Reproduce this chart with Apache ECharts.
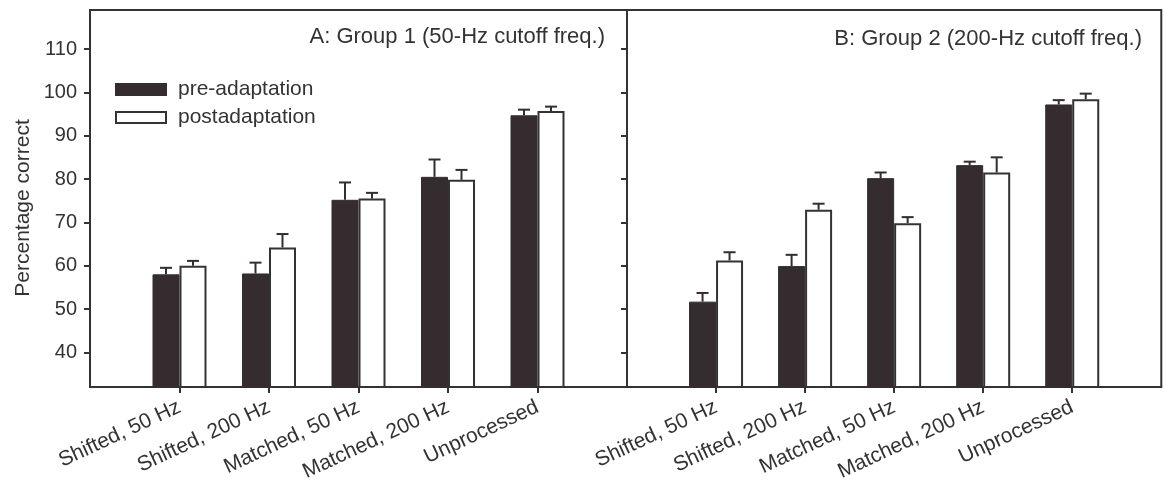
<!DOCTYPE html>
<html>
<head>
<meta charset="utf-8">
<script src="https://cdn.jsdelivr.net/npm/echarts@6/dist/echarts.min.js"></script>
<style>
  html, body { margin: 0; padding: 0; background: #fff; }
  #chart { width: 1164px; height: 494px; }
</style>
</head>
<body>
<div id="chart"></div>
<script>
// categories (blank ends keep the 0..6 spacing of the original axis)
var categories = ['', 'Shifted, 50 Hz', 'Shifted, 200 Hz', 'Matched, 50 Hz', 'Matched, 200 Hz', 'Unprocessed', ''];
var yTicks = [40, 50, 60, 70, 80, 90, 100, 110];

// group 1 (50-Hz cutoff)
var g1Pre = [58.0, 58.2, 75.2, 80.5, 94.7];
var g1PreErr = [59.5, 60.7, 79.2, 84.5, 96.0];
var g1Post = [60.0, 64.2, 75.5, 79.8, 95.7];
var g1PostErr = [61.1, 67.3, 76.8, 82.1, 96.7];

// group 2 (200-Hz cutoff)
var g2Pre = [51.7, 59.9, 80.2, 83.2, 97.2];
var g2PreErr = [53.7, 62.5, 81.5, 84.0, 98.2];
var g2Post = [61.2, 72.9, 69.8, 81.5, 98.4];
var g2PostErr = [63.1, 74.3, 71.2, 85.0, 99.7];

var FONT = '"Liberation Sans", Arial, sans-serif';
var INK = '#333';
var DARK = '#342c2e';
var BAR_W = 27;

(function() {
    const chartDom = document.getElementById('chart');
    const myChart = echarts.init(chartDom);

    // pad with '-' so the bars sit on categories 1..5
    function pad(arr) {
        return ['-'].concat(arr).concat(['-']);
    }

    // error bar rows: [category index, bar top, error top]
    function errRows(vals, errs) {
        return vals.map((v, i) => [i + 1, v, errs[i]]);
    }

    function errSeries(idx, vals, errs, dx) {
        return {
            type: 'custom',
            xAxisIndex: idx,
            yAxisIndex: idx,
            silent: true,
            z: 5,
            data: errRows(vals, errs),
            renderItem: function(params, api) {
                const base = api.coord([api.value(0), api.value(1)]);
                const top = api.coord([api.value(0), api.value(2)]);
                const x = base[0] + dx;
                return {
                    type: 'group',
                    children: [
                        { type: 'line', shape: { x1: x, y1: base[1], x2: x, y2: top[1] },
                          style: { stroke: DARK, lineWidth: 2 } },
                        { type: 'line', shape: { x1: x - 6, y1: top[1], x2: x + 6, y2: top[1] },
                          style: { stroke: DARK, lineWidth: 2 } }
                    ]
                };
            }
        };
    }

    function barSeries(idx, name, vals, filled) {
        return {
            name: name,
            type: 'bar',
            xAxisIndex: idx,
            yAxisIndex: idx,
            barWidth: BAR_W,
            barGap: '0%',
            data: pad(vals),
            itemStyle: filled
                ? { color: DARK, borderColor: DARK, borderWidth: 1 }
                : { color: '#fff', borderColor: INK, borderWidth: 2 }
        };
    }

    function xAxis(idx) {
        return {
            type: 'category',
            gridIndex: idx,
            data: categories,
            boundaryGap: false,
            axisLine: { lineStyle: { color: INK, width: 2 } },
            axisTick: {
                length: 6,
                lineStyle: { color: INK, width: 2 },
                interval: (i) => i >= 1 && i <= 5
            },
            axisLabel: {
                rotate: 25,
                margin: 19,
                interval: 0,
                fontFamily: FONT,
                fontSize: 21,
                color: INK
            },
            splitLine: { show: false }
        };
    }

    const option = {
        backgroundColor: '#fff',
        animation: false,
        title: [
            {
                text: 'A: Group 1 (50-Hz cutoff freq.)',
                right: 559,
                top: 26,
                padding: 0,
                textStyle: { fontFamily: FONT, fontSize: 22, fontWeight: 'normal', color: INK }
            },
            {
                text: 'B: Group 2 (200-Hz cutoff freq.)',
                right: 22,
                top: 28,
                padding: 0,
                textStyle: { fontFamily: FONT, fontSize: 22, fontWeight: 'normal', color: INK }
            }
        ],
        legend: {
            data: ['pre-adaptation', 'postadaptation'],
            orient: 'vertical',
            left: 115,
            top: 79,
            padding: 0,
            itemWidth: 50,
            itemHeight: 11,
            itemGap: 7,
            icon: 'rect',
            textStyle: { fontFamily: FONT, fontSize: 21, color: INK, padding: [0, 0, 0, 7] }
        },
        grid: [
            { left: 90, top: 10, width: 537, height: 377, show: true, borderColor: INK, borderWidth: 2 },
            { left: 627, top: 10, width: 535, height: 377, show: true, borderColor: INK, borderWidth: 2 }
        ],
        xAxis: [xAxis(0), xAxis(1)],
        yAxis: [
            {
                type: 'value',
                gridIndex: 0,
                min: 32,
                max: 119,
                axisLine: { show: true, lineStyle: { color: INK, width: 2 } },
                axisTick: { show: true, length: 6, customValues: yTicks, lineStyle: { color: INK, width: 2 } },
                axisLabel: { customValues: yTicks, margin: 13, fontFamily: FONT, fontSize: 20, color: INK },
                splitLine: { show: false }
            },
            {
                type: 'value',
                gridIndex: 1,
                min: 32,
                max: 119,
                axisLine: { show: true, lineStyle: { color: INK, width: 2 } },
                axisTick: { show: false },
                axisLabel: { show: false },
                splitLine: { show: false }
            },
            {
                // inward ticks along the right edge of panel A
                type: 'value',
                gridIndex: 0,
                position: 'right',
                min: 32,
                max: 119,
                axisLine: { show: false },
                axisTick: { show: true, inside: true, length: 6, customValues: yTicks, lineStyle: { color: INK, width: 2 } },
                axisLabel: { show: false },
                splitLine: { show: false }
            }
        ],
        graphic: [
            {
                type: 'text',
                x: 23,
                y: 208,
                rotation: Math.PI / 2,
                style: {
                    text: 'Percentage correct',
                    fontFamily: FONT,
                    fontSize: 21,
                    fill: INK,
                    align: 'center',
                    verticalAlign: 'middle'
                }
            }
        ],
        series: [
            barSeries(0, 'pre-adaptation', g1Pre, true),
            barSeries(0, 'postadaptation', g1Post, false),
            barSeries(1, 'pre-adaptation', g2Pre, true),
            barSeries(1, 'postadaptation', g2Post, false),
            errSeries(0, g1Pre, g1PreErr, -BAR_W / 2),
            errSeries(0, g1Post, g1PostErr, BAR_W / 2),
            errSeries(1, g2Pre, g2PreErr, -BAR_W / 2),
            errSeries(1, g2Post, g2PostErr, BAR_W / 2)
        ]
    };

    myChart.setOption(option);
    window.addEventListener('resize', myChart.resize);
})();
</script>
</body>
</html>
